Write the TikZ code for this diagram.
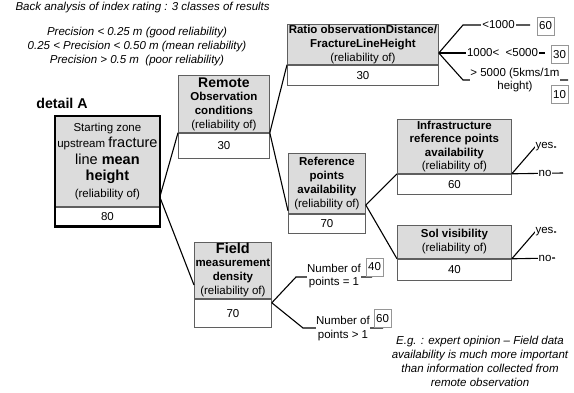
\documentclass[tikz,border=0pt]{standalone}
\usepackage{fontspec}
\setmainfont{Liberation Sans}
\usetikzlibrary{calc}

\definecolor{cellgray}{RGB}{220,220,220}
\definecolor{edgegray}{RGB}{95,95,95}
\definecolor{tagedge}{RGB}{150,150,150}

\newcommand{\largetxt}{\fontsize{14.5}{16}\selectfont}

\tikzset{
  factor/.style={draw=edgegray, line width=0.8pt, fill=cellgray, anchor=north west,
    inner sep=0pt, align=center, font=\fontsize{11.5}{14}\selectfont},
  score/.style={draw=edgegray, line width=0.8pt, fill=white, anchor=north,
    inner sep=0pt, font=\fontsize{11.5}{14}\selectfont},
  link/.style={line width=1.1pt, black},
  tag/.style={fill=white, inner sep=1pt, align=center, font=\fontsize{11.5}{13.5}\selectfont},
  scorebox/.style={draw=tagedge, line width=0.6pt, fill=white, minimum width=17pt,
    minimum height=18pt, inner sep=0pt, font=\fontsize{11.5}{14}\selectfont},
  note/.style={align=center, font=\fontsize{11.5}{14}\selectfont\itshape}
}

\begin{document}
\begin{tikzpicture}[x=1pt,y=-1pt]
\useasboundingbox (0,0) rectangle (574,393);

% header notes
\node[note, anchor=west] (title) at (12,8) {Back analysis of index rating : 3 classes of results};
\node[note] (classes) at (137,47) {Precision < 0.25 m (good reliability)\\
  0.25 < Precision < 0.50 m (mean reliability)\\
  Precision > 0.5 m \ (poor reliability)};
\node[font=\fontsize{14.2}{16}\selectfont\bfseries] (detail) at (62,103) {detail A};

% factor boxes: grey header with the factor, white cell with its reliability
\node[factor, minimum width=104pt, minimum height=90pt, font=\fontsize{11.5}{16.5}\selectfont] (start) at (55,116)
  {Starting zone\\upstream {\largetxt fracture}\\{\largetxt line \textbf{mean}}\\{\largetxt\bfseries height}\\(reliability of)};
\node[score, minimum width=104pt, minimum height=19pt] (startv) at (start.south) {80};
\draw[line width=2.5pt] (start.north west) rectangle (startv.south east);

\node[factor, minimum width=91pt, minimum height=57pt] (remote) at (178,75)
  {{\fontsize{14}{16}\selectfont\bfseries Remote}\\[-1pt]\textbf{Observation}\\\textbf{conditions}\\(reliability of)};
\node[score, minimum width=91pt, minimum height=25pt] (remotev) at (remote.south) {30};

\node[factor, minimum width=151pt, minimum height=40pt] (ratio) at (287,24)
  {\textbf{Ratio observationDistance/}\\\textbf{FractureLineHeight}\\(reliability of)};
\node[score, minimum width=151pt, minimum height=20pt] (ratiov) at (ratio.south) {30};

\node[factor, minimum width=77pt, minimum height=60pt] (ref) at (288,153)
  {\textbf{Reference}\\\textbf{points}\\\textbf{availability}\\(reliability of)};
\node[score, minimum width=77pt, minimum height=19pt] (refv) at (ref.south) {70};

\node[factor, minimum width=114pt, minimum height=54pt, font=\fontsize{11.5}{13.4}\selectfont] (infra) at (397,119)
  {\textbf{Infrastructure}\\\textbf{reference points}\\\textbf{availability}\\(reliability of)};
\node[score, minimum width=114pt, minimum height=20pt] (infrav) at (infra.south) {60};

\node[factor, minimum width=114pt, minimum height=33pt] (sol) at (397,225)
  {\textbf{Sol visibility}\\(reliability of)};
\node[score, minimum width=114pt, minimum height=21pt] (solv) at (sol.south) {40};

\node[factor, minimum width=77pt, minimum height=56pt] (field) at (194,242)
  {{\fontsize{14.5}{16}\selectfont\bfseries Field}\\[-1pt]\textbf{measurement}\\\textbf{density}\\(reliability of)};
\node[score, minimum width=77pt, minimum height=28pt] (fieldv) at (field.south) {70};

% branching points
\coordinate (startJ) at ($(start.north east)+(0,81)$);
\coordinate (refJ)   at ($(ref.north east)+(0,52)$);
\coordinate (ratioJ) at ($(ratio.north east)+(0,29)$);
\coordinate (fieldJ) at ($(fieldv.north east)+(0,4)$);

% tree connectors
\draw[link] (startJ) -- (remote.south west);
\draw[link] (startJ) -- ($(field.north west)+(0,43)$);
\draw[link] (remote.south east) -- (ratio.south west);
\draw[link] (remote.south east) -- ($(ref.south west)+(0,-3)$);
\draw[link] (refJ) -- (infra.south west);
\draw[link] (refJ) -- (sol.south west);

% ratio classes
\coordinate (rUp)  at (463,25);
\coordinate (rUpE) at (530,25);
\coordinate (rMidE) at (545,53);
\coordinate (rLo)  at (463,80);
\coordinate (rLoE) at (568,80);
\draw[link] (ratioJ) -- (rUp) -- (rUpE);
\draw[link] (ratioJ) -- (rMidE);
\draw[link] (ratioJ) -- (rLo) -- (rLoE);
\node[tag] (lt1000) at (498.5,25) {<1000};
\node[tag] (mid5000) at (502.5,53) {1000<\ \ <5000};
\node[tag, inner sep=0.5pt] (gt5000) at (515,80) {> 5000 (5kms/1m\\height)};
\node[scorebox] (s60) at (545.5,26) {60};
\node[scorebox] (s30) at (559.5,54.5) {30};
\node[scorebox] (s10) at (559.5,94.5) {10};

% yes / no answers
\coordinate (iYes) at (535,147);
\coordinate (iYesE) at (556,147);
\coordinate (iNoE) at (563,173);
\draw[link] (infra.south east) -- (iYes) -- (iYesE);
\draw[link] (infra.south east) -- (iNoE);
\node[tag] (iyest) at (544.5,147) {yes};
\node[tag] (inot) at (545,173) {no};

\coordinate (sYes) at (535,232);
\coordinate (sYesE) at (556,232);
\coordinate (sNoE) at (555,258);
\draw[link] (sol.south east) -- (sYes) -- (sYesE);
\draw[link] (sol.south east) -- (sNoE);
\node[tag] (syest) at (544.5,232) {yes};
\node[tag] (snot) at (545,258) {no};

% number of measurement points
\coordinate (fUp) at (296,277);
\coordinate (fUpE) at (372,277);
\coordinate (fLo) at (303,328);
\coordinate (fLoE) at (383,328);
\draw[link] (fieldJ) -- (fUp) -- (fUpE);
\draw[link] (fieldJ) -- (fLo) -- (fLoE);
\node[tag, inner sep=0.5pt] (one) at (334,276) {Number of\\points = 1};
\node[tag, inner sep=0.5pt] (many) at (343,328.5) {Number of\\points > 1};
\node[scorebox] (p40) at (374.5,267) {40};
\node[scorebox] (p60) at (382.5,318.5) {60};

% expert opinion
\node[note] (opinion) at (480,361.5) {E.g. : expert opinion -- Field data\\
  availability is much more important\\than information collected from\\remote observation};
\end{tikzpicture}
\end{document}
